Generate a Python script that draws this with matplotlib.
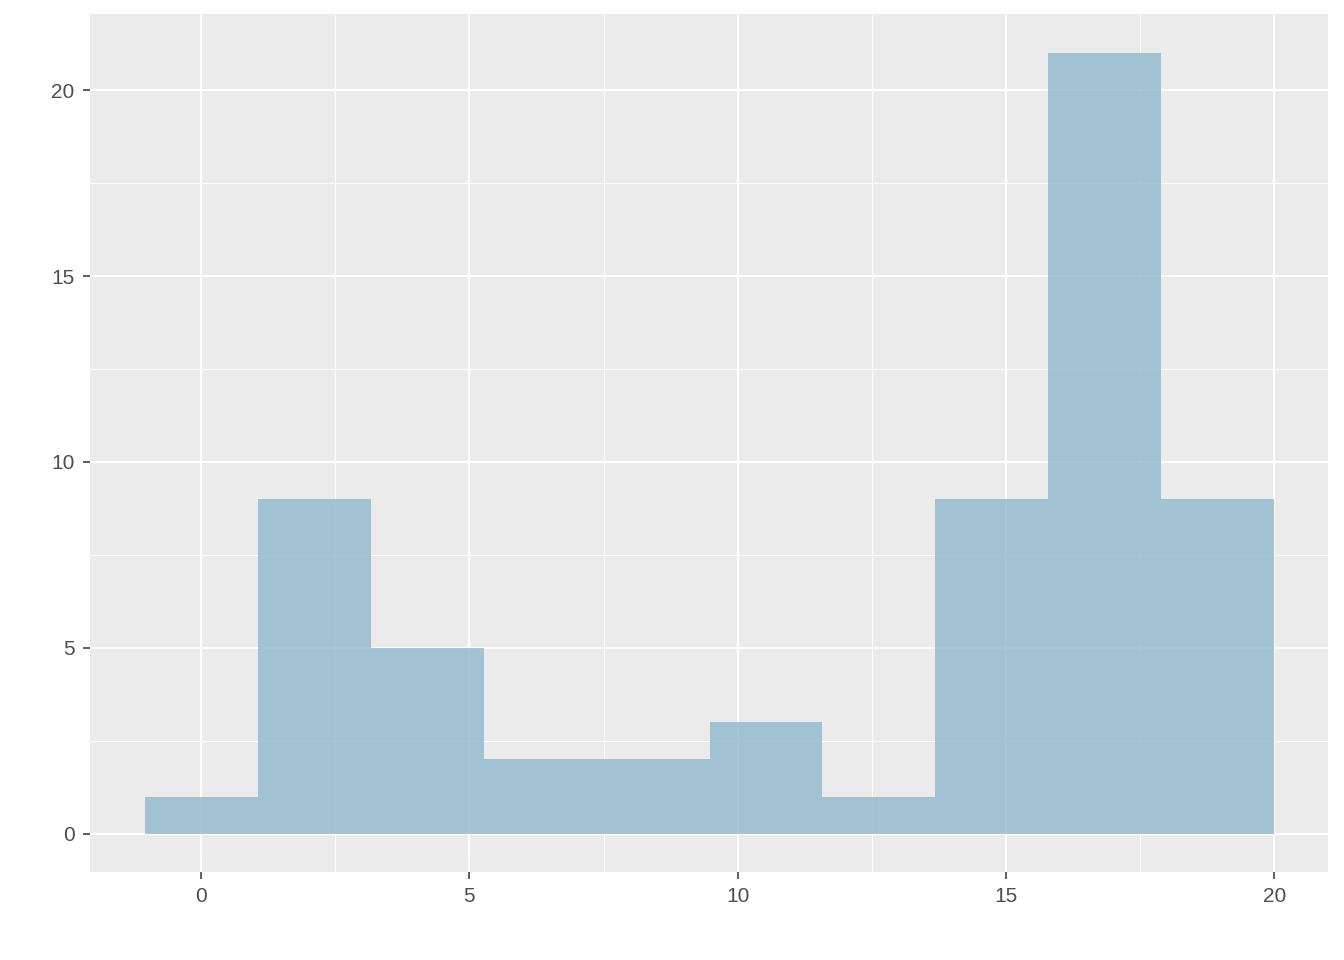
import numpy as np
import matplotlib
matplotlib.use("Agg")
import matplotlib.pyplot as plt

counts = [1, 9, 5, 2, 2, 3, 1, 9, 21, 9]
x_min_edge = -1.05
x_max_edge = 20.0
x_ticks = [0, 5, 10, 15, 20]
y_ticks = [0, 5, 10, 15, 20]

edges = np.linspace(x_min_edge, x_max_edge, len(counts) + 1)

plt.rcParams['font.family'] = ['Liberation Sans', 'DejaVu Sans']
fig = plt.figure(figsize=(13.44, 9.6), dpi=100)
ax = fig.add_axes([90/1344, 1 - 872/960, (1328-90)/1344, (872-14)/960])
ax.set_facecolor('#EBEBEB')

ax.set_xticks(x_ticks)
ax.set_yticks(y_ticks)
ax.set_xticks([2.5, 7.5, 12.5, 17.5], minor=True)
ax.set_yticks([2.5, 7.5, 12.5, 17.5], minor=True)
ax.grid(True, which='major', color='white', linewidth=1.4)
ax.grid(True, which='minor', color='white', linewidth=0.7)
ax.set_axisbelow(True)

ax.bar(edges[:-1], counts, width=np.diff(edges), align='edge',
       color='#8DB8CC', alpha=0.8, linewidth=0, zorder=3)

ax.set_xlim(-2.07, 21.0)
ax.set_ylim(-1.03, 22.05)
for s in ax.spines.values():
    s.set_visible(False)
ax.tick_params(which='major', length=5, color='#333333', labelcolor='#4D4D4D',
               labelsize=15, width=1.1, pad=6)
ax.tick_params(which='minor', length=0)

fig.savefig('out.png', dpi=100)
